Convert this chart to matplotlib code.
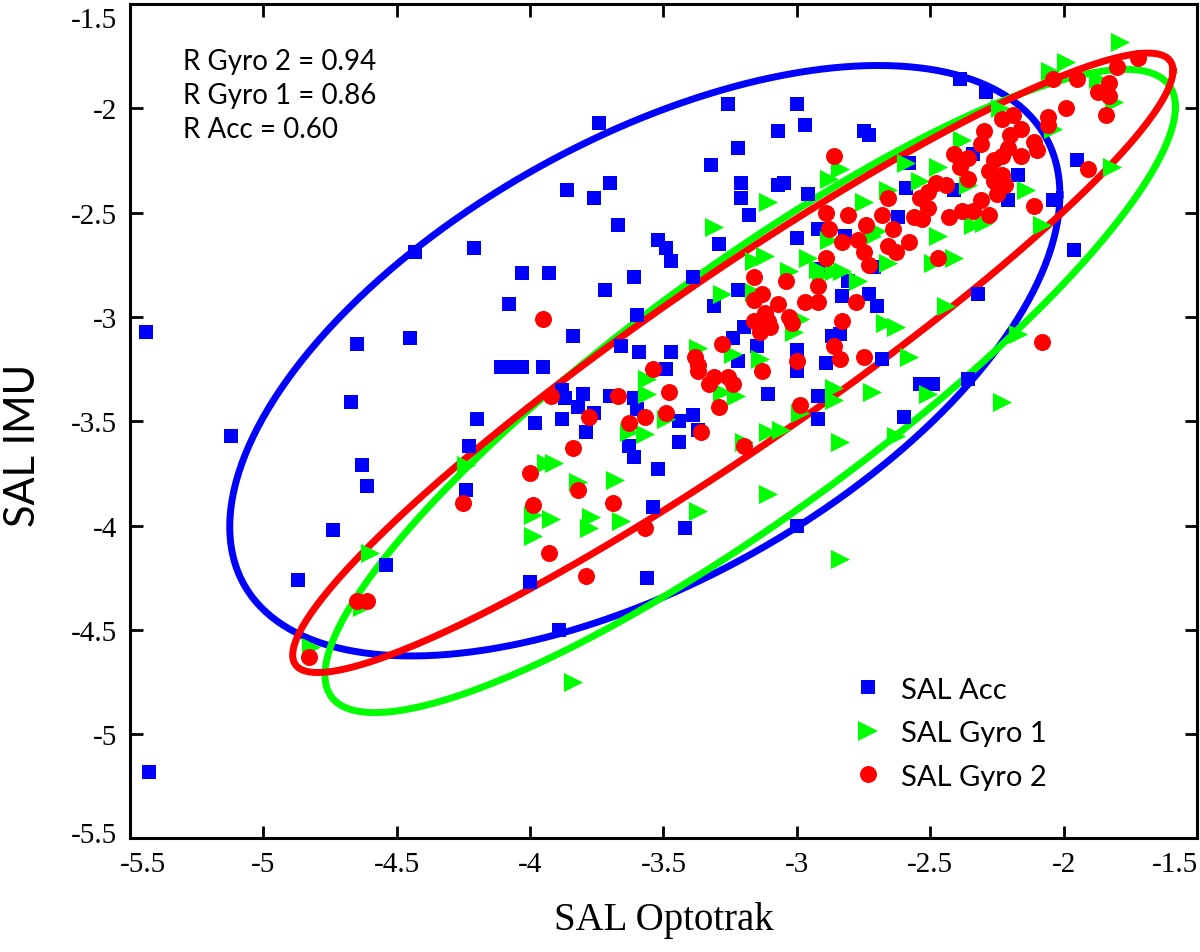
import numpy as np
import matplotlib
matplotlib.use("Agg")
import matplotlib.pyplot as plt
import matplotlib.transforms as mtransforms
from matplotlib.lines import Line2D

# ---------------- data ----------------
acc_x = [-5.44, -5.43, -5.12, -4.87, -4.74, -4.63, -4.61, -4.67, -4.65, -4.54,
         -4.45, -4.43, -4.21, -4.20, -4.23, -4.24, -3.74, -3.26, -3.00, -2.97,
         -3.07, -3.22, -3.32, -3.86, -3.76, -3.70, -3.21, -3.05, -3.07, -3.21,
         -3.18, -3.67, -3.52, -3.49, -3.47, -2.96, -2.92, -3.00, -4.03, -3.93,
         -3.61, -3.72, -4.08, -3.29, -3.39, -3.22, -3.31, -3.60, -3.84, -3.66,
         -3.59, -3.47, -3.49, -3.20, -3.24, -3.15, -3.22, -3.00, -3.00, -2.89,
         -4.11, -4.07, -4.03, -3.95, -3.88, -3.87, -3.80, -3.82, -3.76, -3.70,
         -3.61, -3.60, -3.98, -3.88, -3.79, -3.44, -3.39, -3.37, -3.44, -3.63,
         -3.61, -3.52, -3.11, -2.92, -2.92, -3.54, -3.42, -3.00, -4.00, -3.56,
         -3.89, -2.39, -2.29, -2.75, -2.73, -2.58, -2.59, -2.17, -2.21, -2.04,
         -1.95, -1.96, -2.32, -2.62, -2.82, -2.73, -2.70, -2.83, -2.81, -2.71,
         -2.91, -2.34, -2.41, -2.84, -2.87, -2.68, -2.54, -2.49, -2.36, -2.60]
acc_y = [-3.07, -5.18, -3.57, -4.26, -4.02, -3.71, -3.81, -3.41, -3.13, -4.19,
         -3.10, -2.69, -2.67, -3.49, -3.62, -3.83, -2.07, -1.98, -1.98, -2.08,
         -2.11, -2.19, -2.27, -2.39, -2.43, -2.36, -2.36, -2.36, -2.37, -2.43,
         -2.51, -2.56, -2.63, -2.67, -2.73, -2.41, -2.58, -2.62, -2.79, -2.79,
         -2.81, -2.87, -2.94, -2.65, -2.81, -2.87, -2.95, -2.99, -3.09, -3.14,
         -3.17, -3.17, -3.25, -3.05, -3.10, -3.14, -3.21, -3.16, -3.26, -3.22,
         -3.24, -3.24, -3.24, -3.24, -3.35, -3.39, -3.37, -3.43, -3.46, -3.38,
         -3.39, -3.44, -3.51, -3.49, -3.55, -3.50, -3.47, -3.54, -3.60, -3.62,
         -3.67, -3.73, -3.37, -3.38, -3.49, -3.91, -4.01, -4.00, -4.27, -4.25,
         -4.50, -1.86, -1.92, -2.11, -2.13, -2.26, -2.38, -2.32, -2.44, -2.44,
         -2.25, -2.68, -2.89, -2.52, -2.61, -2.89, -2.95, -2.90, -2.83, -2.76,
         -2.77, -2.22, -2.39, -3.08, -3.09, -3.20, -3.32, -3.32, -3.30, -3.48]

gyro1_x = [-3.11, -3.31, -3.12, -3.16, -2.96, -3.03, -2.92, -3.28, -3.16, -2.99,
           -3.01, -3.37, -3.24, -3.14, -3.56, -3.28, -3.23, -3.56, -3.49, -3.63,
           -3.57, -3.11, -3.06, -2.99, -3.20, -3.94, -3.91, -3.68, -3.82, -3.11,
           -3.99, -3.92, -3.77, -3.66, -3.37, -3.78, -3.99, -2.84, -3.84, -2.84,
           -2.67, -2.63, -2.86, -2.72, -2.86, -2.51, -2.63, -2.58, -2.23, -2.17,
           -1.79, -1.99, -2.05, -1.87, -1.81, -2.04, -2.14, -2.38, -2.47, -2.59,
           -2.36, -2.34, -2.30, -2.47, -2.41, -2.49, -2.54, -2.66, -2.75, -2.88,
           -2.84, -2.88, -2.70, -2.66, -2.72, -2.91, -2.83, -2.86, -1.82, -2.08,
           -2.44, -2.24, -2.77, -4.24, -4.60, -4.63, -4.82]
gyro1_y = [-2.45, -2.57, -2.71, -2.73, -2.72, -2.78, -2.77, -2.89, -2.88, -3.01,
           -3.07, -3.15, -3.18, -3.20, -3.30, -3.36, -3.38, -3.37, -3.49, -3.55,
           -3.56, -3.55, -3.54, -3.46, -3.60, -3.70, -3.70, -3.78, -3.79, -3.85,
           -3.95, -3.97, -3.96, -3.98, -3.93, -4.01, -4.05, -4.16, -4.75, -3.60,
           -3.03, -3.05, -3.34, -3.36, -3.40, -3.37, -3.57, -3.19, -3.41, -3.08,
           -1.68, -1.78, -1.82, -1.86, -1.97, -2.10, -2.39, -2.15, -2.28, -2.26,
           -2.37, -2.56, -2.55, -2.61, -2.72, -2.74, -2.35, -2.39, -2.45, -2.34,
           -2.29, -2.63, -2.59, -2.74, -2.61, -2.80, -2.78, -2.78, -2.28, -2.56,
           -2.95, -2.00, -2.83, -3.71, -4.13, -4.39, -4.58]

gyro2_x = [-3.95, -3.16, -3.04, -3.13, -3.16, -3.07, -2.97, -2.92, -2.92, -3.12,
           -3.16, -3.11, -3.10, -3.14, -3.03, -3.02, -2.89, -2.88, -2.89, -3.28,
           -3.00, -3.13, -3.38, -3.37, -3.37, -3.31, -3.33, -3.26, -3.24, -3.54,
           -3.48, -3.49, -3.67, -3.78, -3.92, -3.57, -3.63, -3.36, -3.29, -2.99,
           -3.20, -3.84, -4.00, -3.82, -3.99, -3.69, -3.57, -3.93, -3.79, -4.25,
           -4.61, -4.65, -4.83, -2.83, -2.86, -2.84, -2.75, -2.08, -1.72, -1.80,
           -1.95, -2.04, -1.87, -1.83, -1.83, -1.84, -1.99, -2.06, -2.06, -2.19,
           -2.23, -2.16, -2.30, -2.31, -2.20, -2.21, -2.23, -2.16, -2.10, -2.11,
           -2.26, -2.28, -2.23, -2.22, -2.25, -2.26, -2.41, -2.39, -2.36, -2.36,
           -2.44, -2.48, -2.51, -2.11, -2.31, -2.34, -2.38, -2.28, -2.43, -2.86,
           -1.91, -2.47, -2.66, -2.68, -2.51, -2.54, -2.56, -2.53, -2.58, -2.64,
           -2.66, -2.63, -2.74, -2.81, -2.83, -2.77, -2.75, -2.73, -2.78]
gyro2_y = [-3.01, -2.81, -2.83, -2.89, -2.92, -2.94, -2.93, -2.85, -2.93, -2.98,
           -3.02, -3.02, -3.05, -3.07, -3.00, -3.03, -2.50, -2.58, -2.72, -3.13,
           -3.21, -3.26, -3.19, -3.23, -3.26, -3.29, -3.32, -3.29, -3.32, -3.25,
           -3.36, -3.46, -3.38, -3.48, -3.38, -3.48, -3.51, -3.55, -3.43, -3.42,
           -3.62, -3.63, -3.75, -3.83, -3.90, -3.89, -4.01, -4.13, -4.24, -3.89,
           -4.36, -4.36, -4.63, -3.02, -3.14, -3.20, -3.19, -3.12, -1.76, -1.80,
           -1.86, -1.86, -1.92, -1.88, -1.94, -2.03, -2.00, -2.04, -2.08, -2.03,
           -2.05, -2.10, -2.11, -2.17, -2.13, -2.19, -2.23, -2.23, -2.20, -2.16,
           -2.25, -2.30, -2.32, -2.37, -2.41, -2.35, -2.22, -2.28, -2.24, -2.34,
           -2.37, -2.36, -2.40, -2.47, -2.44, -2.49, -2.49, -2.51, -2.52, -2.23,
           -2.29, -2.72, -2.43, -2.51, -2.48, -2.43, -2.52, -2.53, -2.64, -2.58,
           -2.66, -2.69, -2.56, -2.51, -2.64, -2.63, -2.69, -2.75, -2.93]

series_labels = ["SAL Acc", "SAL Gyro 1", "SAL Gyro 2"]
r_labels = ["R Gyro 2 = 0.94", "R Gyro 1 = 0.86", "R Acc = 0.60"]

# ellipse parameters (Acc, Gyro 1, Gyro 2): centre, conjugate semi-diameters
ell_cx = [-3.57, -3.175, -3.24]
ell_cy = [-3.21, -3.355, -3.22]
ell_ux = [1.556, 1.594, 1.650]
ell_uy = [0.796, 1.361, 1.400]
ell_vy = [1.170, 0.724, 0.494]

x_ticks = [-5.5, -5.0, -4.5, -4.0, -3.5, -3.0, -2.5, -2.0, -1.5]
x_tick_labels = ["-5.5", "-5", "-4.5", "-4", "-3.5", "-3", "-2.5", "-2", "-1.5"]
y_ticks = [-5.5, -5.0, -4.5, -4.0, -3.5, -3.0, -2.5, -2.0, -1.5]
y_tick_labels = ["-5.5", "-5", "-4.5", "-4", "-3.5", "-3", "-2.5", "-2", "-1.5"]

colors = ["#0000FF", "#00FF00", "#FF0000"]

# ---------------- figure ----------------
fig = plt.figure(figsize=(12, 9.53), dpi=100)
ax = fig.add_axes([0.1083, 0.1191, 0.8892, 0.8757])

t = np.linspace(0, 2 * np.pi, 400)
for i in range(3):
    ex = ell_cx[i] + ell_ux[i] * np.cos(t)
    ey = ell_cy[i] + ell_uy[i] * np.cos(t) + ell_vy[i] * np.sin(t)
    ax.plot(ex, ey, color=colors[i], lw=5, zorder=2 + i * 0.1)

ax.scatter(acc_x, acc_y, marker="s", s=100, color=colors[0], linewidths=0, zorder=3)
ax.scatter(gyro1_x, gyro1_y, marker=">", s=190, color=colors[1], linewidths=0, zorder=4)
ax.scatter(gyro2_x, gyro2_y, marker="o", s=150, color=colors[2], linewidths=0, zorder=5)

ax.set_xlim(-5.5, -1.5)
ax.set_ylim(-5.5, -1.5)
ax.set_xticks(x_ticks)
ax.set_xticklabels(x_tick_labels)
ax.set_yticks(y_ticks)
ax.set_yticklabels(y_tick_labels)

serif = "Liberation Serif"
sans = "Lato"
ax.tick_params(direction="in", length=9, width=2, top=True, right=True,
               labelsize=21, pad=9)
for lab in ax.get_xticklabels() + ax.get_yticklabels():
    lab.set_fontfamily(serif)
for sp in ax.spines.values():
    sp.set_linewidth(2.2)

# keep the edge tick labels inside the figure, as in the reference
xl = ax.get_xticklabels()
yl = ax.get_yticklabels()
def shift(lab, dx, dy):
    lab.set_transform(lab.get_transform() +
                      mtransforms.ScaledTranslation(dx / 100, dy / 100, fig.dpi_scale_trans))
shift(xl[0], 13, 0)
xl[-1].set_horizontalalignment("right")
shift(xl[-1], 1, 0)
shift(yl[-1], 0, -13)
shift(yl[0], 0, 6)

ax.set_xlabel("SAL Optotrak", fontsize=28, fontfamily=serif)
ax.xaxis.set_label_coords(0.5, -0.097)
ax.xaxis.label.set_va("center")
ax.set_ylabel("SAL IMU", fontsize=30, fontfamily=sans)
ax.yaxis.set_label_coords(-0.100, 0.472)
ax.yaxis.label.set_va("center")

for k, txt in enumerate(r_labels):
    ax.text(0.0497, 0.922 - k * 0.041, txt, transform=ax.transAxes,
            fontsize=20, fontfamily=sans, ha="left", va="baseline")

handles = [
    Line2D([], [], ls="none", marker="s", ms=10, color=colors[0], mew=0),
    Line2D([], [], ls="none", marker=">", ms=13.8, color=colors[1], mew=0),
    Line2D([], [], ls="none", marker="o", ms=12.2, color=colors[2], mew=0),
]
ax.legend(handles, series_labels, loc="upper left", bbox_to_anchor=(0.6785, 0.194),
          frameon=False, prop={"family": sans, "size": 21}, handlelength=0.95,
          handletextpad=0.65, labelspacing=0.6, borderpad=0, borderaxespad=0)

fig.savefig("out.png", dpi=100)
